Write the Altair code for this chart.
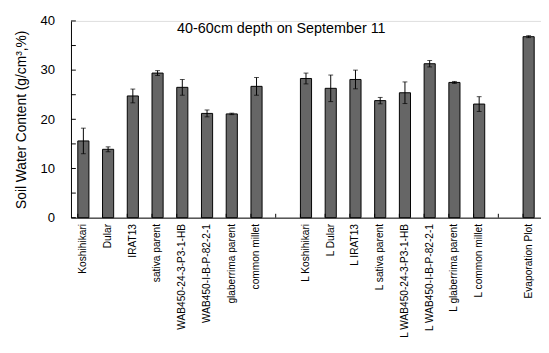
import altair as alt
import pandas as pd

categories = ["Koshihikari", "Dular", "IRAT13", "sativa parent", "WAB450-24-3-P3-1-HB",
              "WAB450-I-B-P-82-2-1", "glaberrima parent", "common millet", " ",
              "L Koshihikari", "L Dular", "L IRAT13", "L sativa parent", "L WAB450-24-3-P3-1-HB",
              "L WAB450-I-B-P-82-2-1", "L glaberrima parent", "L common millet", "  ",
              "Evaporation Plot"]
values = [15.6, 13.9, 24.75, 29.4, 26.5, 21.2, 21.1, 26.7, None,
          28.3, 26.3, 28.1, 23.8, 25.4, 31.3, 27.5, 23.1, None,
          36.8]
errors = [2.6, 0.5, 1.4, 0.5, 1.6, 0.7, 0.15, 1.8, None,
          1.1, 2.7, 1.9, 0.65, 2.2, 0.65, 0.2, 1.5, None,
          0.2]
y_ticks = [0, 5, 10, 15, 20, 25, 30, 35, 40]

rows = []
for c, v, e in zip(categories, values, errors):
    rows.append({"cat": c, "v": v, "lo": None if v is None else v - e,
                 "hi": None if v is None else v + e})
df = pd.DataFrame(rows)
bars_df = df.dropna()
tick_df = pd.DataFrame({"cat": categories})
ytick_df = pd.DataFrame({"t": y_ticks})

W, H = 485, 203
FONT = "Liberation Sans"

xscale = alt.Scale(domain=categories, paddingInner=0.55, paddingOuter=0.275)
yscale = alt.Scale(domain=[0, 40], nice=False)

xaxis = alt.Axis(title=None, ticks=False, labelAngle=270, labelFontSize=10.5,
                 labelFont=FONT, labelColor="black", domainColor="black",
                 labelPadding=6, labelLimit=200)
yaxis = alt.Axis(title="Soil Water Content (g/cm³,%)", values=[0, 10, 20, 30, 40],
                 ticks=False, grid=False, labelFontSize=13.5, labelFont=FONT,
                 labelColor="black", domainColor="black", labelPadding=17,
                 titleFont=FONT, titleFontSize=14.2, titleFontWeight="normal",
                 titleColor="black", titlePadding=12)

base = alt.Chart(bars_df)
bars = base.mark_bar(color="#666666", stroke="black", strokeWidth=1).encode(
    x=alt.X("cat:N", scale=xscale, axis=xaxis, sort=categories),
    y=alt.Y("v:Q", scale=yscale, axis=yaxis),
)
err = base.mark_rule(color="black", strokeWidth=1).encode(
    x=alt.X("cat:N", scale=xscale, sort=categories),
    y="lo:Q", y2="hi:Q",
)
cap_hi = base.mark_tick(color="black", size=5, thickness=1).encode(
    x=alt.X("cat:N", scale=xscale, sort=categories), y="hi:Q")
cap_lo = base.mark_tick(color="black", size=5, thickness=1).encode(
    x=alt.X("cat:N", scale=xscale, sort=categories), y="lo:Q")

xt = alt.Chart(tick_df).mark_rule(color="black", strokeWidth=1).encode(
    x=alt.X("cat:N", scale=xscale, sort=categories, bandPosition=0),
    y=alt.value(H), y2=alt.value(H - 4),
)
yt = alt.Chart(ytick_df).mark_rule(color="black", strokeWidth=1).encode(
    y=alt.Y("t:Q", scale=yscale),
    x=alt.value(0), x2=alt.value(5),
)
title = alt.Chart(pd.DataFrame({"t": ["40-60cm depth on September 11"]})).mark_text(
    font=FONT, fontSize=14.8, color="black", align="center", baseline="middle"
).encode(text="t:N", x=alt.value(217), y=alt.value(8))

chart = alt.layer(bars, err, cap_hi, cap_lo, xt, yt, title).properties(
    width=W, height=H,
    autosize=alt.AutoSizeParams(type="none"),
    padding={"left": 65, "top": 8, "right": 0, "bottom": 125},
).configure_view(stroke=None).configure(background="white")

chart.save("out.html", embed_options={"renderer": "svg", "actions": False})
